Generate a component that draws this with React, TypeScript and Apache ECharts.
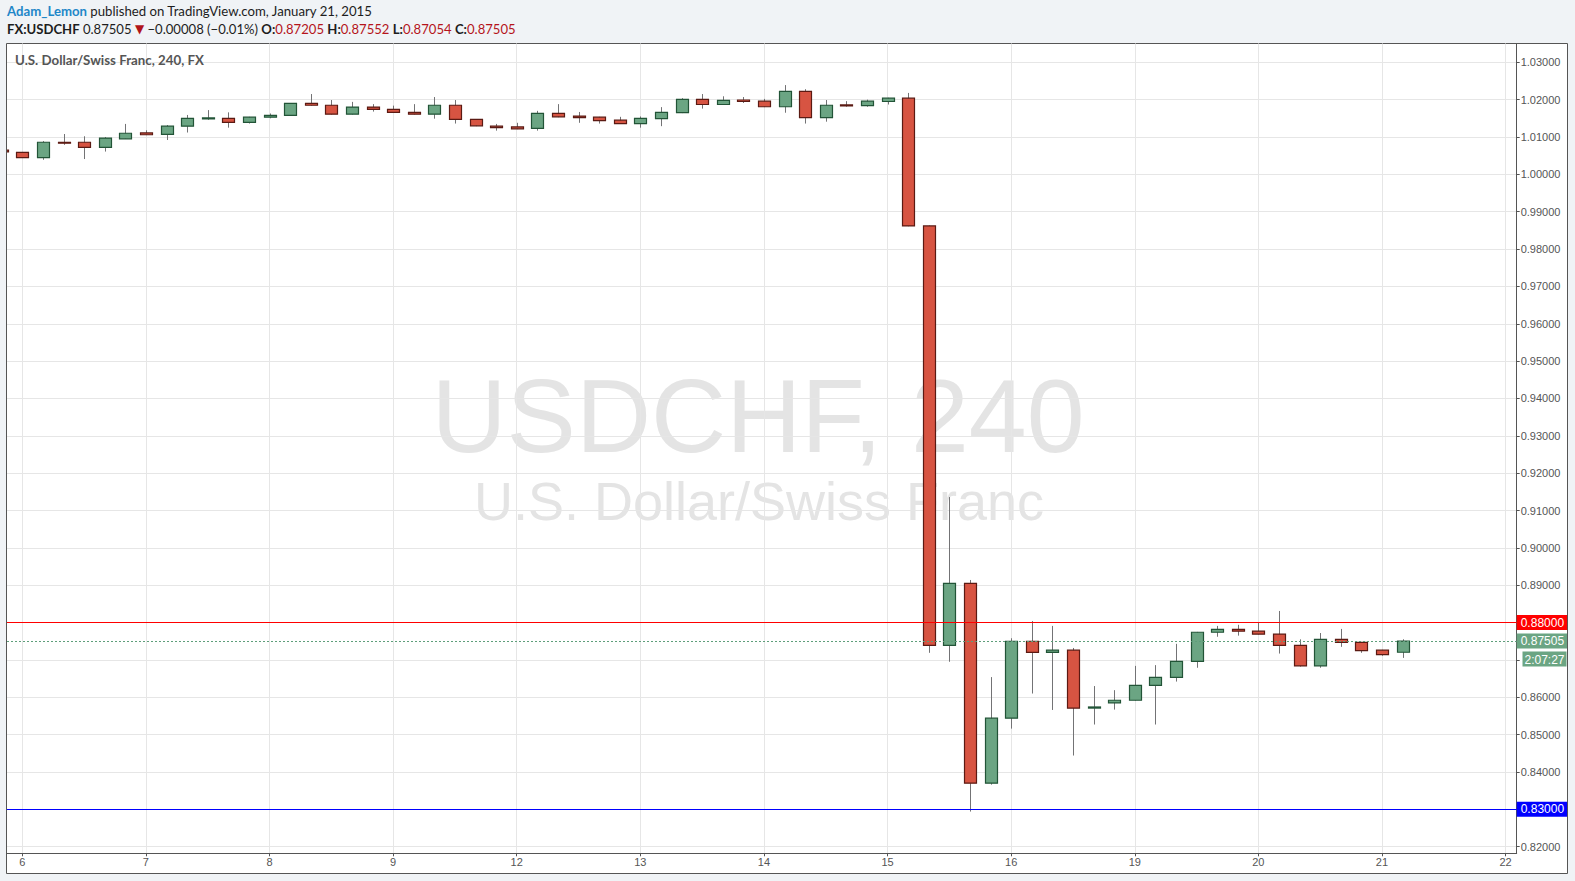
import React, { useEffect, useRef } from "react";
import * as echarts from "echarts";

// 4-hour bars, slot 0 = first bar of Jan 6; slot -1 = last bar of Jan 5
const firstSlot = -1;
const opens = [
  1.0065, 1.0059, 1.0045, 1.0086, 1.0086, 1.0072, 1.0095, 1.0111, 1.0107, 1.0129,
  1.0149, 1.015, 1.0139, 1.0153, 1.0158, 1.019, 1.0185, 1.0161, 1.018, 1.0174,
  1.0166, 1.0161, 1.0185, 1.0147, 1.0129, 1.0127, 1.0123, 1.0163, 1.0156, 1.0153,
  1.0145, 1.0136, 1.0149, 1.0165, 1.0201, 1.0187, 1.0199, 1.0196, 1.0181, 1.0222,
  1.0152, 1.0186, 1.0184, 1.0195, 1.0204, 0.9862, 0.8739, 0.8905, 0.837, 0.8544,
  0.875, 0.872, 0.8726, 0.8571, 0.8585, 0.8592, 0.8632, 0.8653, 0.8696, 0.8774,
  0.8782, 0.8777, 0.8769, 0.8739, 0.8684, 0.8755, 0.8747, 0.8726, 0.87205,
];
const closes = [
  1.006, 1.0045, 1.0086, 1.0085, 1.0072, 1.0097, 1.011, 1.0106, 1.0129, 1.015,
  1.0151, 1.0139, 1.0153, 1.0158, 1.019, 1.0185, 1.0161, 1.018, 1.0174, 1.0166,
  1.0161, 1.0185, 1.0147, 1.013, 1.0125, 1.0122, 1.0163, 1.0154, 1.0152, 1.0144,
  1.0136, 1.015, 1.0166, 1.0201, 1.0187, 1.0198, 1.0195, 1.0181, 1.0222, 1.0152,
  1.0185, 1.0184, 1.0196, 1.0204, 0.9862, 0.8739, 0.8905, 0.837, 0.8544, 0.875,
  0.872, 0.8726, 0.8571, 0.8574, 0.8592, 0.8632, 0.8653, 0.8696, 0.8774, 0.8782,
  0.8777, 0.8769, 0.8739, 0.8684, 0.8755, 0.8747, 0.8725, 0.8714, 0.87505,
];
const lows = [
  1.0058, 1.0044, 1.0039, 1.0079, 1.0041, 1.0061, 1.0095, 1.0105, 1.0092, 1.0112,
  1.0146, 1.0125, 1.0136, 1.015, 1.0157, 1.0184, 1.016, 1.016, 1.0168, 1.0165,
  1.016, 1.0149, 1.0136, 1.0129, 1.0117, 1.0121, 1.0117, 1.0153, 1.0138, 1.0136,
  1.0135, 1.0125, 1.0129, 1.0164, 1.0176, 1.0186, 1.0191, 1.018, 1.0165, 1.0136,
  1.0141, 1.0181, 1.0181, 1.0187, 0.9861, 0.8719, 0.8695, 0.8294, 0.8366, 0.8516,
  0.861, 0.8566, 0.8444, 0.8527, 0.8567, 0.8591, 0.8527, 0.8642, 0.8679, 0.8762,
  0.8765, 0.8768, 0.8717, 0.8682, 0.8679, 0.8735, 0.8719, 0.8711, 0.87054,
];
const highs = [
  1.0066, 1.006, 1.0089, 1.0108, 1.0102, 1.01, 1.0135, 1.0118, 1.0132, 1.0159,
  1.0172, 1.0166, 1.0154, 1.0163, 1.0191, 1.0215, 1.0199, 1.0194, 1.0188, 1.0184,
  1.0188, 1.0207, 1.0199, 1.0148, 1.0135, 1.0138, 1.017, 1.0188, 1.0167, 1.0154,
  1.0154, 1.0155, 1.018, 1.0204, 1.0215, 1.0209, 1.0207, 1.0202, 1.0239, 1.0228,
  1.0199, 1.0196, 1.02, 1.0205, 1.0218, 0.9863, 0.9136, 0.8914, 0.8654, 0.8758,
  0.8804, 0.8791, 0.8732, 0.863, 0.8619, 0.8684, 0.8686, 0.8743, 0.8775, 0.8791,
  0.8794, 0.8799, 0.8831, 0.8755, 0.8772, 0.8783, 0.8748, 0.8727, 0.87552,
];

const dayTickSlots = [0, 6, 12, 18, 24, 30, 36, 42, 48, 54, 60, 66, 72];
const dayTickLabels = ["6", "7", "8", "9", "12", "13", "14", "15", "16", "19", "20", "21", "22"];
const priceTicks = [
  0.82, 0.83, 0.84, 0.85, 0.86, 0.87, 0.88, 0.89, 0.9, 0.91, 0.92,
  0.93, 0.94, 0.95, 0.96, 0.97, 0.98, 0.99, 1.0, 1.01, 1.02, 1.03,
];
const coveredPriceLabels = [0.83, 0.87, 0.88];
const redLevel = 0.88;
const blueLevel = 0.83;
const lastPrice = 0.87505;
const countdown = "2:07:27";

const headerAuthor = "Adam_Lemon";
const headerRest = "published on TradingView.com, January 21, 2015";
const symbol = "FX:USDCHF";
const change = "\u22120.00008 (\u22120.01%)";
const ohlcLast = { O: "0.87205", H: "0.87552", L: "0.87054", C: "0.87505" };
const chartTitle = "U.S. Dollar/Swiss Franc, 240, FX";
const wmTop = "USDCHF, 240";
const wmBottom = "U.S. Dollar/Swiss Franc";

const UP_FILL = "#6ba583";
const UP_LINE = "#225437";
const DN_FILL = "#d75442";
const DN_LINE = "#5b1a13";
const WICK = "#737375";
const AX = "#555555";
const FONT = "'Liberation Sans', Arial, sans-serif";
const HFONT = "Lato, 'Noto Sans', sans-serif";

export default function App() {
  const ref = useRef<HTMLDivElement>(null);
  useEffect(() => {
    if (!ref.current) return;
    const chart = echarts.init(ref.current, undefined, { renderer: "svg" });
    const data = opens.map((o, k) => [firstSlot + k, o, closes[k], lows[k], highs[k]]);
    const labelTicks = priceTicks.filter((v) => !coveredPriceLabels.some((c) => Math.abs(c - v) < 1e-9));

    const levelLabel = (value: number, bg: string) => ({
      show: true,
      position: "end",
      distance: 0,
      formatter: value.toFixed(5),
      backgroundColor: bg,
      color: "#ffffff",
      padding: [2, 3, 1, 4],
      fontSize: 12,
      fontFamily: FONT,
    });

    const option: any = {
      animation: false,
      backgroundColor: "#f0f3f6",
      textStyle: { fontFamily: FONT },
      grid: { left: 7, right: 58.3, top: 43.5, bottom: 27.7, containLabel: false },
      xAxis: {
        type: "value",
        min: -0.743,
        max: 72.54,
        axisLine: { show: true, onZero: false, lineStyle: { color: AX, width: 1 } },
        axisTick: { show: true, length: 3, customValues: dayTickSlots, lineStyle: { color: AX } },
        axisLabel: {
          customValues: dayTickSlots,
          formatter: (v: number) => dayTickLabels[Math.round(v / 6)] ?? "",
          color: AX,
          fontSize: 11,
          margin: 3,
          fontFamily: FONT,
        },
        splitLine: { show: true, lineStyle: { color: "#e6e6e6", width: 1 } },
      },
      yAxis: {
        type: "value",
        position: "right",
        min: 0.818223,
        max: 1.035033,
        axisLine: { show: true, onZero: false, lineStyle: { color: AX, width: 1 } },
        axisTick: { show: true, length: 3, customValues: priceTicks, lineStyle: { color: AX } },
        axisLabel: {
          customValues: labelTicks,
          formatter: (v: number) => v.toFixed(5),
          color: AX,
          fontSize: 11,
          margin: 4,
          fontFamily: FONT,
        },
        splitLine: { show: true, lineStyle: { color: "#e6e6e6", width: 1 } },
      },
      series: [
        {
          type: "custom",
          clip: true,
          data,
          encode: { x: 0, y: [1, 2, 3, 4] },
          renderItem: (_params: any, api: any) => {
            const x = api.value(0);
            const o = api.value(1);
            const c = api.value(2);
            const l = api.value(3);
            const h = api.value(4);
            const pO = api.coord([x, o]);
            const pC = api.coord([x, c]);
            const pL = api.coord([x, l]);
            const pH = api.coord([x, h]);
            const up = c >= o;
            const cx = Math.round(pO[0]) + 0.5;
            const top = Math.min(pO[1], pC[1]);
            const bot = Math.max(pO[1], pC[1]);
            const bw = 12;
            return {
              type: "group",
              children: [
                {
                  type: "line",
                  shape: { x1: cx, y1: pH[1], x2: cx, y2: pL[1] },
                  style: { stroke: WICK, lineWidth: 1 },
                },
                {
                  type: "rect",
                  shape: { x: cx - bw / 2, y: top, width: bw, height: Math.max(bot - top, 1) },
                  style: { fill: up ? UP_FILL : DN_FILL, stroke: up ? UP_LINE : DN_LINE, lineWidth: 1.2 },
                },
              ],
            };
          },
          z: 3,
        },
        {
          type: "line",
          data: [],
          z: 4,
          markLine: {
            silent: true,
            symbol: "none",
            animation: false,
            precision: 5,
            label: { show: true },
            labelLayout: { hideOverlap: false },
            data: [
              {
                yAxis: redLevel,
                lineStyle: { color: "#ff0000", width: 1, type: "solid" },
                label: levelLabel(redLevel, "#ff0000"),
              },
              {
                yAxis: blueLevel,
                lineStyle: { color: "#0000ff", width: 1, type: "solid" },
                label: levelLabel(blueLevel, "#0000ff"),
              },
              {
                yAxis: lastPrice,
                lineStyle: { color: "#5e9e7a", width: 1, type: [2, 2] },
                label: levelLabel(lastPrice, UP_FILL),
              },
            ],
          },
        },
      ],
      graphic: {
        elements: [
          {
            type: "rect",
            z: -10,
            shape: { x: 6.5, y: 43.5, width: 1561, height: 830 },
            style: { fill: "#ffffff", stroke: AX, lineWidth: 1 },
          },
          {
            type: "text",
            z: -5,
            x: 758,
            y: 416,
            style: {
              text: wmTop,
              font: `104px ${FONT}`,
              fill: "#e4e4e4",
              textAlign: "center",
              textVerticalAlign: "middle",
            },
          },
          {
            type: "text",
            z: -5,
            x: 759,
            y: 501,
            style: {
              text: wmBottom,
              font: `54px ${FONT}`,
              fill: "#e4e4e4",
              textAlign: "center",
              textVerticalAlign: "middle",
            },
          },
          {
            type: "text",
            z: 10,
            x: 7,
            y: 11,
            style: {
              text: `{a|${headerAuthor}} {b|${headerRest}}`,
              textVerticalAlign: "middle",
              rich: {
                a: { fontFamily: HFONT, fontSize: 13.2, fontWeight: "bold", fill: "#1f87c8" },
                b: { fontFamily: HFONT, fontSize: 13.2, fill: "#1d1d1d" },
              },
            },
          },
          {
            type: "text",
            z: 10,
            x: 7,
            y: 29,
            style: {
              text:
                `{s|${symbol}} {n|${lastPrice.toFixed(5)}} {t|\u25BC} {n|${change}} ` +
                `{s|O:}{r|${ohlcLast.O}} {s|H:}{r|${ohlcLast.H}} {s|L:}{r|${ohlcLast.L}} {s|C:}{r|${ohlcLast.C}}`,
              textVerticalAlign: "middle",
              rich: {
                s: { fontFamily: HFONT, fontSize: 13.1, fontWeight: "bold", fill: "#1d1d1d" },
                n: { fontFamily: HFONT, fontSize: 13.1, fill: "#1d1d1d" },
                t: { fontFamily: "DejaVu Sans", fontSize: 12, fill: "#b0141a" },
                r: { fontFamily: HFONT, fontSize: 13.1, fill: "#b5141b" },
              },
            },
          },
          {
            type: "text",
            z: 10,
            x: 15,
            y: 60,
            style: {
              text: chartTitle,
              font: `bold 13.3px ${HFONT}`,
              fill: "#555555",
              textVerticalAlign: "middle",
            },
          },
          {
            type: "rect",
            z: 10,
            shape: { x: 1522.5, y: 651.5, width: 44, height: 15 },
            style: { fill: UP_FILL },
          },
          {
            type: "text",
            z: 11,
            x: 1544.5,
            y: 659.5,
            style: {
              text: countdown,
              font: `12px ${FONT}`,
              fill: "#ffffff",
              textAlign: "center",
              textVerticalAlign: "middle",
            },
          },
        ],
      },
    };
    chart.setOption(option);
    return () => chart.dispose();
  }, []);
  return (
    <div
      ref={ref}
      style={{ position: "fixed", left: 0, top: 0, width: 1575, height: 881 }}
    />
  );
}
